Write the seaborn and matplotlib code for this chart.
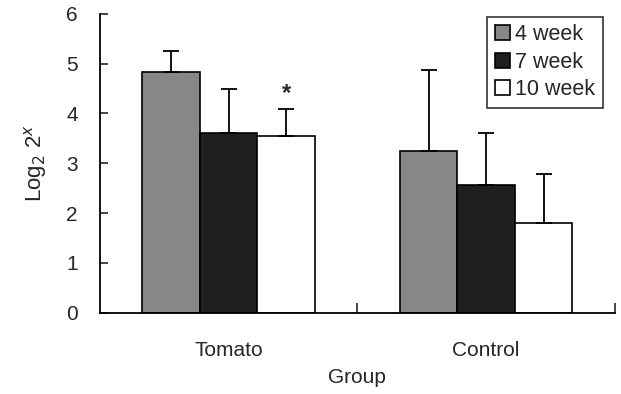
import pandas as pd
import numpy as np
import matplotlib.pyplot as plt
import seaborn as sns

grupos = ["Tomato", "Control"]
semanas = ["4 week", "7 week", "10 week"]
medias = {
    "4 week": [4.83, 3.25],
    "7 week": [3.61, 2.56],
    "10 week": [3.54, 1.80],
}
errores = {
    "4 week": [0.43, 1.63],
    "7 week": [0.89, 1.05],
    "10 week": [0.54, 0.98],
}
colores = ["#878787", "#1f1f1f", "#ffffff"]

filas = []
for s in semanas:
    for i, g in enumerate(grupos):
        filas.append({"grupo": g, "semana": s, "valor": medias[s][i], "error": errores[s][i]})
df = pd.DataFrame(filas)

sns.set_style("ticks")
plt.rcParams['font.family'] = ['Liberation Sans', 'DejaVu Sans']

fig = plt.figure(figsize=(6.21, 3.94), dpi=100)
ax = fig.add_axes([0.161, 0.206, 0.829, 0.759])

sns.barplot(data=df, x="grupo", y="valor", hue="semana", order=grupos, hue_order=semanas,
            palette=colores, width=0.67, errorbar=None, edgecolor="black", linewidth=1.2,
            saturation=1, ax=ax)

# barras de error solo hacia arriba
for j, s in enumerate(semanas):
    cont = ax.containers[j]
    for i, barra in enumerate(cont):
        xc = barra.get_x() + barra.get_width() / 2
        h = barra.get_height()
        ax.errorbar(xc, h, yerr=[[0], [errores[s][i]]], fmt="none", ecolor="black",
                    elinewidth=1.3, capsize=6, capthick=1.3)

# asterisco en Tomato 10 week
barra = ax.containers[2][0]
ax.text(barra.get_x() + barra.get_width() / 2, medias["10 week"][0] + errores["10 week"][0] + 0.08,
        "*", ha="center", va="bottom", fontsize=17, fontweight="bold")

ax.set_ylim(0, 6)
ax.set_xlim(-0.5, 1.5)
ax.set_yticks(range(0, 7))
ax.set_xticks([0, 1])
ax.set_xticklabels(grupos, fontsize=15)
ax.set_xticks([0.5, 1.5], minor=True)
ax.tick_params(axis="x", which="major", length=0, pad=20)
ax.tick_params(axis="x", which="minor", length=7, direction="in", width=1.2)
ax.tick_params(axis="y", direction="in", length=6, width=1.2, labelsize=15, pad=16)
sns.despine(ax=ax)
for sp in ["left", "bottom"]:
    ax.spines[sp].set_linewidth(1.3)
    ax.spines[sp].set_color("black")

ax.set_xlabel("Group", fontsize=15, labelpad=6)
ax.set_ylabel("Log$_2$ 2$^x$", fontsize=16, labelpad=12)

leg = ax.legend(loc="upper right", bbox_to_anchor=(0.977, 0.99), fontsize=15.5, frameon=True,
                fancybox=False, edgecolor="black", handlelength=0.7, handleheight=0.7,
                handletextpad=0.25, borderpad=0.35, labelspacing=0.3, borderaxespad=0)
leg.get_frame().set_linewidth(1.2)

fig.savefig("out.png", dpi=100)
